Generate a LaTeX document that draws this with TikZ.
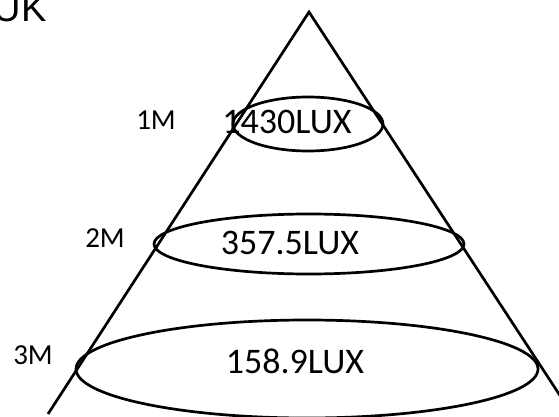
\documentclass[tikz,border=0pt]{standalone}
\usepackage{fontspec}
\setmainfont{Carlito}
\newfontfamily\ukfont{Liberation Sans}
\usetikzlibrary{shapes.geometric}

\tikzset{
  beam/.style={draw, line width=2.7pt},
  spot/.style={ellipse, draw, line width=2.7pt, inner sep=0pt},
  lux/.style={font=\fontsize{36}{40}\selectfont},
  dist/.style={font=\fontsize{29}{32}\selectfont},
}

\begin{document}
\begin{tikzpicture}[x=1pt, y=-1pt]
    \useasboundingbox (0,0) rectangle (559,417);
    % cone
    \coordinate (apex) at (309,12);
    \coordinate (leftend) at (48,414);
    \coordinate (rightend) at (576,420);
    \draw[beam] (leftend) -- (apex) -- (rightend);
    % light spots
    \node[spot, minimum width=150, minimum height=54] (spot1) at (308,124) {};
    \node[spot, minimum width=310, minimum height=60] (spot2) at (309,244) {};
    \node[spot, minimum width=462, minimum height=98] (spot3) at (307,369) {};
    \node[lux] (lux1) at (287,122) {1430LUX};
    \node[lux] (lux2) at (290,243) {357.5LUX};
    \node[lux] (lux3) at (295,361) {158.9LUX};
    % distances
    \node[dist] (d1) at (156,120) {1M};
    \node[dist] (d2) at (105,238) {2M};
    \node[dist] (d3) at (33,355) {3M};
    \node[font=\ukfont\fontsize{38}{40}\selectfont, anchor=base east] (uk) at (50,22) {UK};
\end{tikzpicture}
\end{document}
